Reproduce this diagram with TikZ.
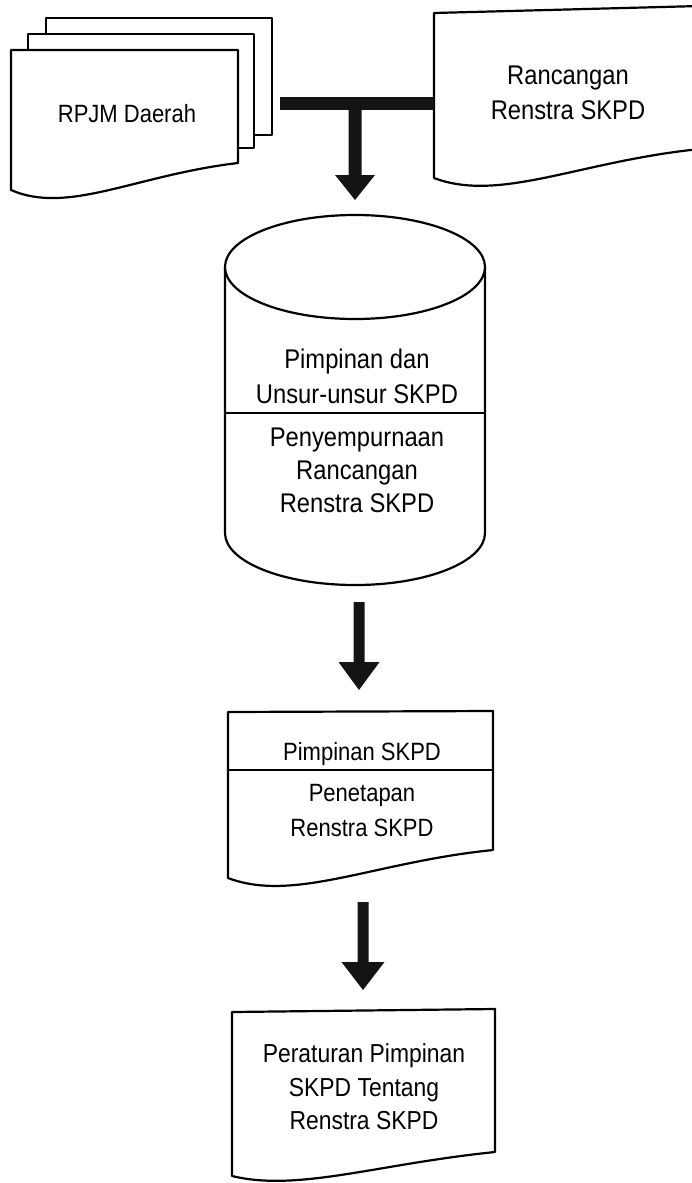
\documentclass[tikz,border=0pt]{standalone}
\usepackage{fontspec}
\setmainfont{Liberation Sans}[FakeStretch=0.88]
\usetikzlibrary{calc}
\newcommand\fsz[2]{\fontsize{#1}{#2}\selectfont}
% block arrow: #1 from, #2 tip, #3 stem half width, #4 head half width, #5 head length
\newcommand\blockarrow[5]{%
  \fill[arrowfill] ($(#1)+(-#3,0)$) -- ($(#1)+(#3,0)$) -- ($(#2)+(#3,-#5)$) -- ($(#2)+(#4,-#5)$)
    -- (#2) -- ($(#2)+(-#4,-#5)$) -- ($(#2)+(-#3,-#5)$) -- cycle;}
\tikzset{
  shapeline/.style={draw=black, line width=2.2pt, fill=white, line join=round},
  divider/.style={draw=black, line width=1.5pt},
  arrowfill/.style={fill=black!92},
  txt/.style={inner sep=0pt, align=center, text=black},
}
\begin{document}
\begin{tikzpicture}[x=1pt, y=-1pt]
\useasboundingbox (0,0) rectangle (691,1183);
\fill[white] (0,0) rectangle (691,1183);

% --- RPJM Daerah (stacked documents)
\draw[shapeline] (46,18) rectangle (272,135);
\draw[shapeline] (28,34) rectangle (254,148);
\draw[shapeline] (11,50) -- (238,50) -- (238,163) .. controls (136,175) and (68,215) .. (11,190) -- cycle;
\node[txt, font=\fsz{25}{29}, anchor=base] (rpjm) at (127,122) {RPJM Daerah};

% --- Rancangan Renstra SKPD (document, cut by the right edge)
\draw[shapeline] (700,6) -- (434,13) -- (434,178) .. controls (500,203) and (580,161) .. (700,149);
\node[txt, font=\fsz{27}{35}] (ranc) at (568,93) {Rancangan\\Renstra SKPD};

% --- T connector into cylinder
\coordinate (barL) at (280,97);
\coordinate (barR) at (434,110);
\coordinate (tjoin) at (355,110);
\coordinate (cyltop) at (355,200);
\fill[arrowfill] (barL) rectangle (barR);
\blockarrow{tjoin}{cyltop}{6.5}{20}{25}

% --- Cylinder
\draw[shapeline] (225,267) -- (225,533) arc[start angle=180, end angle=360, x radius=130pt, y radius=52pt] -- (485,267);
\draw[shapeline] (355,267) ellipse [x radius=130pt, y radius=52pt];
\draw[divider] (225,413) -- (485,413);
\node[txt, font=\fsz{27}{35}] (cylA) at (357,376) {Pimpinan dan\\Unsur-unsur SKPD};
\node[txt, font=\fsz{27}{33}] (cylB) at (357,470.5) {Penyempurnaan\\Rancangan\\Renstra SKPD};

% --- arrow cylinder -> box 3
\coordinate (cylbot) at (359,602);
\coordinate (b3top) at (359,690);
\blockarrow{cylbot}{b3top}{5.5}{20.5}{28}

% --- Box 3: Pimpinan SKPD / Penetapan
\draw[shapeline] (228,712) -- (493,711) -- (493,850) .. controls (374,862) and (294,903) .. (228,878) -- cycle;
\draw[divider] (228,770) -- (493,770);
\node[txt, font=\fsz{25}{29}, anchor=base] (b3A) at (362,760) {Pimpinan SKPD};
\node[txt, font=\fsz{25}{35}] (b3B) at (362,810.5) {Penetapan\\Renstra SKPD};

% --- arrow box 3 -> box 4
\coordinate (b3bot) at (363,902);
\coordinate (b4top) at (363,990);
\blockarrow{b3bot}{b4top}{5.5}{21.5}{28}

% --- Box 4: Peraturan Pimpinan
\draw[shapeline] (232,1012) -- (495,1009) -- (495,1152) .. controls (377,1164) and (298,1192) .. (232,1176) -- cycle;
\node[txt, font=\fsz{26}{33.5}] (b4) at (364,1087) {Peraturan Pimpinan\\SKPD Tentang\\Renstra SKPD};
\end{tikzpicture}
\end{document}
